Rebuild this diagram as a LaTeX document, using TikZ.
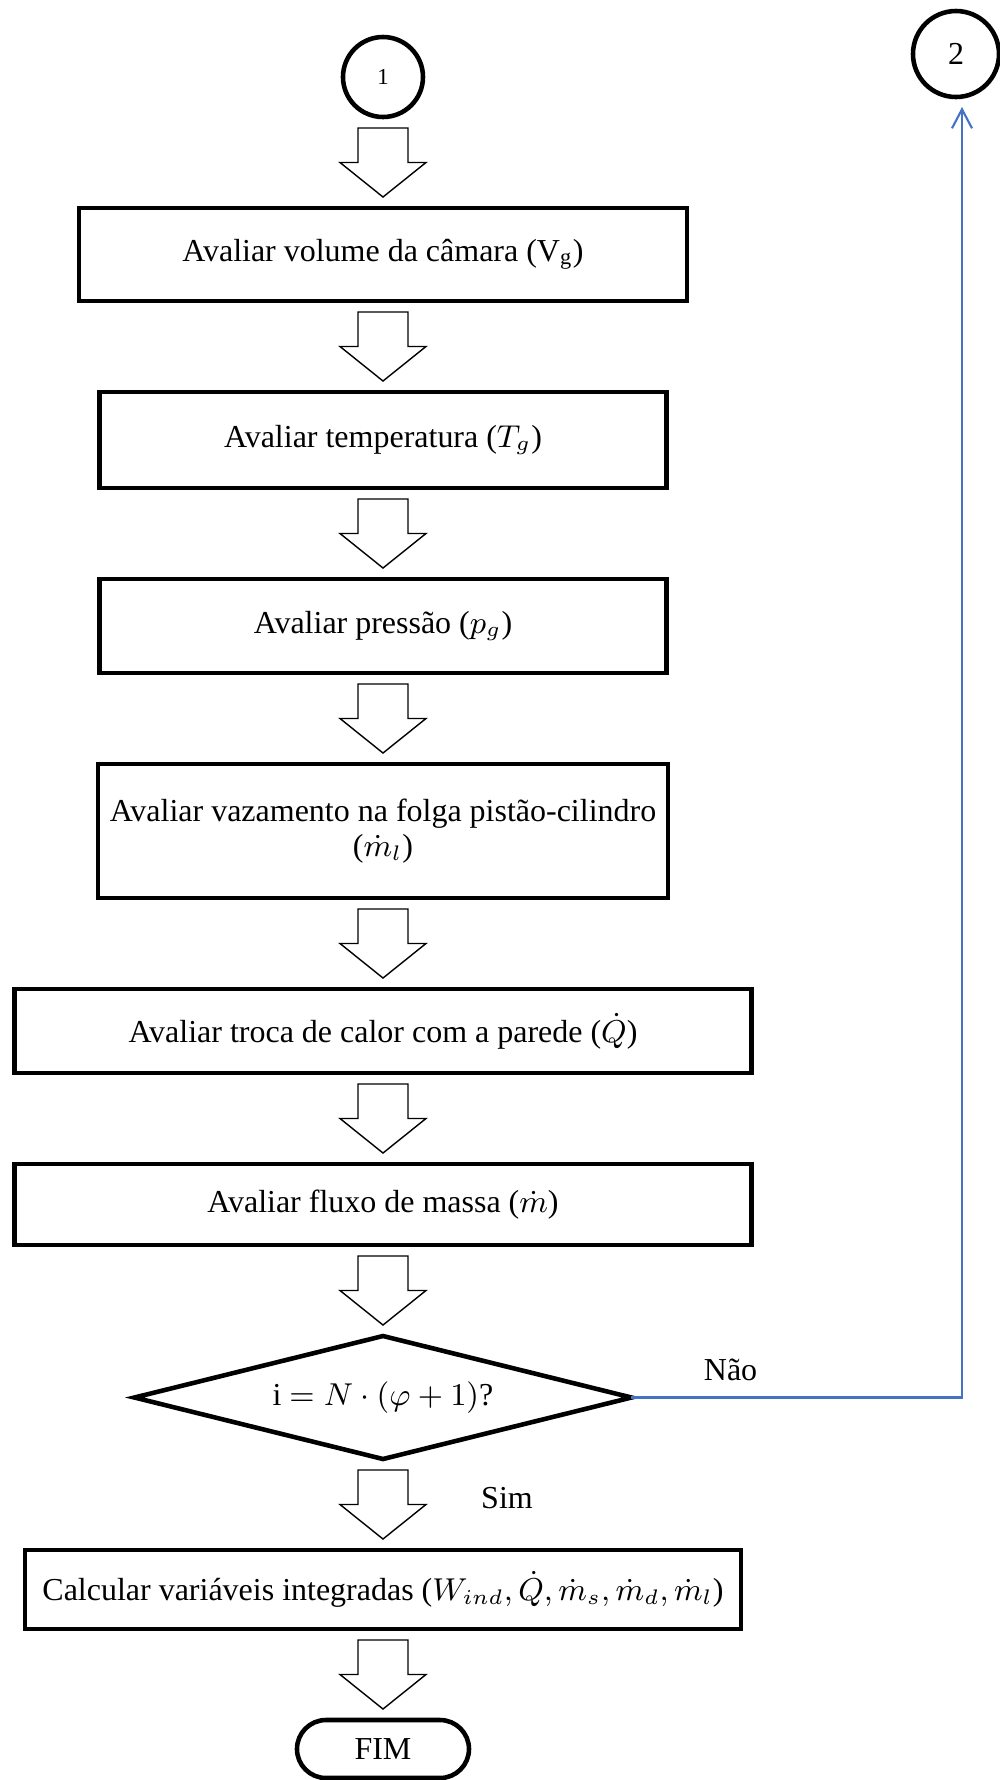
\documentclass[tikz,border=0pt]{standalone}
\usepackage{fontspec}
\setmainfont{Liberation Serif}
\usepackage{amsmath}
\usetikzlibrary{positioning,arrows.meta,shapes.geometric,calc}
\definecolor{linkblue}{RGB}{68,114,196}

\begin{document}
\begin{tikzpicture}[ node distance = 0.91cm, > = {Straight Barb[length=1.9mm,width=2mm]},
font = \fontsize{9.1}{10}\selectfont,
proc/.style={ rectangle, draw, line width = 1.3pt, outer sep = 0pt, align = center },
circ/.style={ circle, draw, line width = 1.3pt, outer sep = 0pt, inner sep = 0pt },
decision/.style={ diamond, draw, aspect = 4, line width = 1.3pt, outer sep = 0pt, inner sep = 0pt, minimum width = 4.97cm, minimum height = 1.23cm },
term/.style={ rectangle, draw, rounded corners = 0.29cm, line width = 1.3pt, outer sep = 0pt, minimum width = 1.72cm, minimum height = 0.58cm },
big arrow/.style={ draw, line width = 0.4pt, to path={ ($(\tikztostart.south)!0.5!(\tikztotarget.north)$) ++(-0.25,0.345) -- ++(0.5,0) -- ++(0,-0.345) -- ++(0.18,0) -- ++(-0.43,-0.345) -- ++(-0.43,0.345) -- ++(0.18,0) -- cycle } }
]
\useasboundingbox (-3.83,0.77) rectangle (6.17,-17.03);
%the chain of steps
\node (c1) at (0,0) [circ, minimum size = 0.8cm, font = \fontsize{6.5}{7}\selectfont] {1};
\node (vol) [proc, below = of c1, minimum width = 6.08cm, minimum height = 0.93cm] {Avaliar volume da câmara (V\textsubscript{g})};
\node (temp) [proc, below = of vol, minimum width = 5.67cm, minimum height = 0.96cm] {Avaliar temperatura ($T_g$)};
\node (pres) [proc, below = of temp, minimum width = 5.67cm, minimum height = 0.94cm] {Avaliar pressão ($p_g$)};
\node (leak) [proc, below = of pres, minimum width = 5.67cm, minimum height = 1.34cm] {Avaliar vazamento na folga pistão-cilindro\\($\dot{m}_l$)};
\node (heat) [proc, below = of leak, minimum width = 7.37cm, minimum height = 0.84cm] {Avaliar troca de calor com a parede ($\dot{Q}$)};
\node (flow) [proc, below = of heat, minimum width = 7.37cm, minimum height = 0.81cm] {Avaliar fluxo de massa ($\dot{m}$)};
\node (cond) [decision, below = of flow] {i $= N\cdot(\varphi+1)$?};
\node (integ) [proc, below = of cond, minimum width = 7.16cm, minimum height = 0.79cm] {Calcular variáveis integradas ($W_{ind}, \dot{Q}, \dot{m}_s, \dot{m}_d, \dot{m}_l$)};
\node (fim) [term, below = of integ] {FIM};
\node (c2) at (5.73,0.23) [circ, minimum size = 0.86cm] {2};

%block arrows between the steps
\foreach \a/\b in {c1/vol, vol/temp, temp/pres, pres/leak, leak/heat, heat/flow, flow/cond, cond/integ, integ/fim}
	\draw [big arrow] (\a) to (\b);

%answers
\node (sim) at ($(cond.south)!0.5!(integ.north)+(1.24,0.06)$) {Sim};
\node (nao) [above right = 0.04cm and 0.6cm of cond.east] {Não};
\draw [->, linkblue, line width = 0.6pt, shorten > = 0.1cm] (cond.east) -| ([xshift = 0.06cm]c2.south);
\end{tikzpicture}
\end{document}
